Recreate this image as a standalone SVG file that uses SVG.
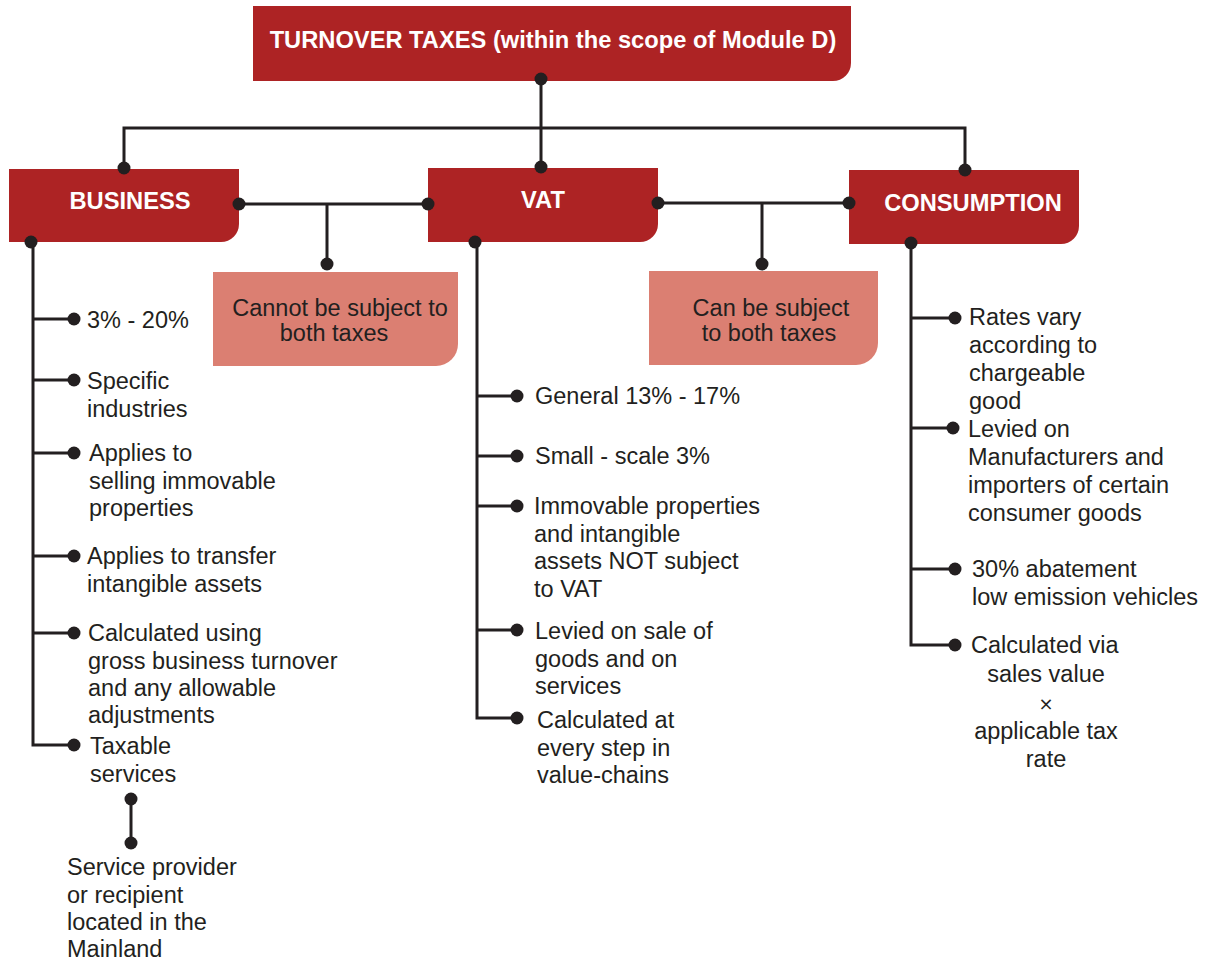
<svg xmlns="http://www.w3.org/2000/svg" width="1216" height="965" viewBox="0 0 1216 965">
<style>
.red{fill:#ad2324}
.pink{fill:#db7f72}
.hd{font-family:"Liberation Sans",Arial,sans-serif;font-weight:bold;font-size:23.7px;fill:#fff;text-anchor:middle}
.tx{font-family:"Liberation Sans",Arial,sans-serif;font-size:23.5px;fill:#231f20}
.mid{text-anchor:middle}
.ln{fill:none;stroke:#231f20;stroke-width:3}
.dot{fill:#231f20}
</style>
<rect width="1216" height="965" fill="#fff"/>
<g id="title">
<path class="red" d="M253,6 H851 V63 A18,18 0 0 1 833,81 H253 Z"/>
<text class="hd" x="553" y="48">TURNOVER TAXES (within the scope of Module D)</text>
</g>
<g id="business">
<path class="red" d="M9,169 H239 V224 A18,18 0 0 1 221,242 H9 Z"/>
<text class="hd" x="130" y="209">BUSINESS</text>
</g>
<g id="vat">
<path class="red" d="M428,168 H658 V224 A18,18 0 0 1 640,242 H428 Z"/>
<text class="hd" x="543" y="208">VAT</text>
</g>
<g id="consumption">
<path class="red" d="M849,170 H1079 V226 A18,18 0 0 1 1061,244 H849 Z"/>
<text class="hd" x="973" y="211">CONSUMPTION</text>
</g>
<g id="cannot">
<path class="pink" d="M213,272 H458 V344 A22,22 0 0 1 436,366 H213 Z"/>
<text class="tx mid" x="340" y="316">Cannot be subject to</text>
<text class="tx mid" x="334" y="341">both taxes</text>
</g>
<g id="can">
<path class="pink" d="M649,271 H878 V343 A22,22 0 0 1 856,365 H649 Z"/>
<text class="tx mid" x="771" y="316">Can be subject</text>
<text class="tx mid" x="769" y="341">to both taxes</text>
</g>
<g id="business-items">
<text class="tx" x="87" y="328">3% - 20%</text>
<text class="tx" x="87" y="389">Specific</text>
<text class="tx" x="87" y="417">industries</text>
<text class="tx" x="89" y="461">Applies to</text>
<text class="tx" x="89" y="489">selling immovable</text>
<text class="tx" x="89" y="516">properties</text>
<text class="tx" x="87" y="564">Applies to transfer</text>
<text class="tx" x="87" y="592">intangible assets</text>
<text class="tx" x="88" y="641">Calculated using</text>
<text class="tx" x="88" y="669">gross business turnover</text>
<text class="tx" x="88" y="696">and any allowable</text>
<text class="tx" x="88" y="723">adjustments</text>
<text class="tx" x="90" y="754">Taxable</text>
<text class="tx" x="90" y="782">services</text>
<text class="tx" x="67" y="875">Service provider</text>
<text class="tx" x="67" y="903">or recipient</text>
<text class="tx" x="67" y="930">located in the</text>
<text class="tx" x="67" y="957">Mainland</text>
</g>
<g id="vat-items">
<text class="tx" x="535" y="404">General 13% - 17%</text>
<text class="tx" x="535" y="464">Small - scale 3%</text>
<text class="tx" x="534" y="514">Immovable properties</text>
<text class="tx" x="534" y="542">and intangible</text>
<text class="tx" x="534" y="569">assets NOT subject</text>
<text class="tx" x="534" y="597">to VAT</text>
<text class="tx" x="535" y="639">Levied on sale of</text>
<text class="tx" x="535" y="667">goods and on</text>
<text class="tx" x="535" y="694">services</text>
<text class="tx" x="537" y="728">Calculated at</text>
<text class="tx" x="537" y="756">every step in</text>
<text class="tx" x="537" y="783">value-chains</text>
</g>
<g id="consumption-items">
<text class="tx" x="969" y="325">Rates vary</text>
<text class="tx" x="969" y="353">according to</text>
<text class="tx" x="969" y="381">chargeable</text>
<text class="tx" x="969" y="409">good</text>
<text class="tx" x="968" y="437">Levied on</text>
<text class="tx" x="968" y="465">Manufacturers and</text>
<text class="tx" x="968" y="493">importers of certain</text>
<text class="tx" x="968" y="521">consumer goods</text>
<text class="tx" x="972" y="577">30% abatement</text>
<text class="tx" x="972" y="605">low emission vehicles</text>
<text class="tx" x="971" y="653">Calculated via</text>
<text class="tx mid" x="1046" y="682">sales value</text>
<text class="tx mid" x="1046" y="710" style="font-size:18px;font-family:'DejaVu Sans',sans-serif">×</text>
<text class="tx mid" x="1046" y="739">applicable tax</text>
<text class="tx mid" x="1046" y="767">rate</text>
</g>
<g id="connectors">
<path class="ln" d="M541,79 V167 M124,168 V128 H965 V170"/>
<path class="ln" d="M239,204 H428 M327,204 V264"/>
<path class="ln" d="M658,203 H849 M762,203 V264"/>
<path class="ln" d="M33,242 V745 H74 M33,319 H74 M33,380 H74 M33,453 H74 M33,556 H74 M33,633 H74"/>
<path class="ln" d="M131,799 V843"/>
<path class="ln" d="M477,242 V718 H517 M477,396 H517 M477,456 H517 M477,506 H517 M477,630 H517"/>
<path class="ln" d="M911,243 V645 H955 M911,318 H955 M911,428 H953 M911,569 H955"/>
<g class="dot">
<circle cx="541" cy="79" r="6.5"/><circle cx="541" cy="167" r="6.5"/>
<circle cx="124" cy="168" r="6.5"/><circle cx="965" cy="170" r="6.5"/>
<circle cx="239" cy="204" r="6.5"/><circle cx="428" cy="204" r="6.5"/><circle cx="327" cy="264" r="6.5"/>
<circle cx="658" cy="203" r="6.5"/><circle cx="849" cy="203" r="6.5"/><circle cx="762" cy="264" r="6.5"/>
<circle cx="31" cy="242" r="6.5"/><circle cx="475" cy="242" r="6.5"/><circle cx="911" cy="243" r="6.5"/>
<circle cx="74" cy="319" r="6.5"/><circle cx="74" cy="380" r="6.5"/><circle cx="74" cy="453" r="6.5"/>
<circle cx="74" cy="556" r="6.5"/><circle cx="74" cy="633" r="6.5"/><circle cx="74" cy="745" r="6.5"/>
<circle cx="131" cy="799" r="6.5"/><circle cx="131" cy="843" r="6.5"/>
<circle cx="517" cy="396" r="6.5"/><circle cx="517" cy="456" r="6.5"/><circle cx="517" cy="506" r="6.5"/>
<circle cx="517" cy="630" r="6.5"/><circle cx="517" cy="718" r="6.5"/>
<circle cx="955" cy="318" r="6.5"/><circle cx="953" cy="428" r="6.5"/><circle cx="955" cy="569" r="6.5"/><circle cx="955" cy="645" r="6.5"/>
</g>
</g>
</svg>
